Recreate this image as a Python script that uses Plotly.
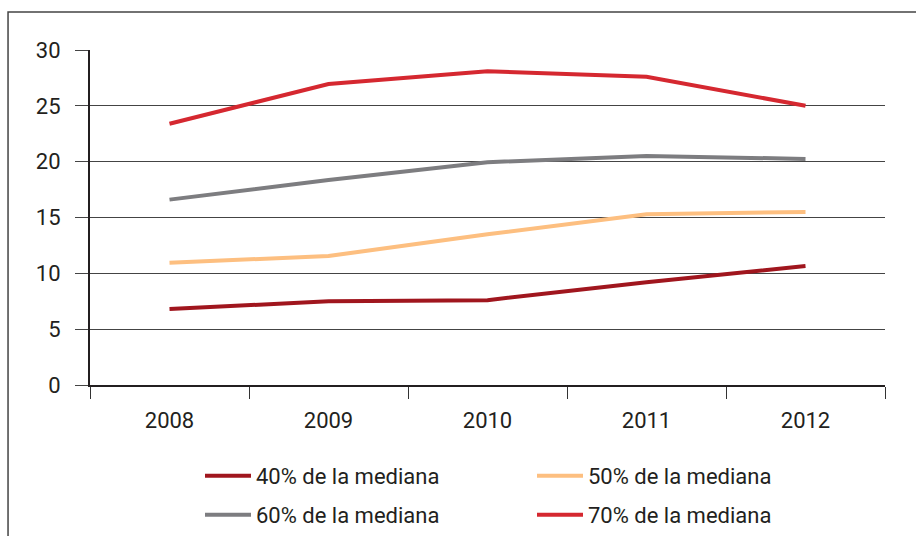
import plotly.graph_objects as go

years = ["2008", "2009", "2010", "2011", "2012"]
s40 = [6.8, 7.5, 7.6, 9.2, 10.65]
s50 = [10.95, 11.55, 13.5, 15.3, 15.5]
s60 = [16.6, 18.35, 19.95, 20.5, 20.25]
s70 = [23.4, 26.95, 28.1, 27.6, 25.0]
names = ["40% de la mediana", "50% de la mediana", "60% de la mediana", "70% de la mediana"]
colors = ["#A0161E", "#FDBF80", "#7D7D80", "#D52830"]
y_ticks = [0, 5, 10, 15, 20, 25, 30]

FONT = "Roboto"
FS = 22
TXT = "#231F20"

fig = go.Figure()
series = [s40, s50, s60, s70]
legends = ["legend", "legend", "legend2", "legend2"]
for vals, nm, col, lg in zip(series, names, colors, legends):
    fig.add_trace(go.Scatter(x=years, y=vals, name=nm, mode="lines",
                             line=dict(color=col, width=4), legend=lg))

leg_common = dict(orientation="h", xref="container", yref="container",
                  xanchor="left", yanchor="middle",
                  entrywidth=271, entrywidthmode="pixels", itemwidth=46,
                  font=dict(family=FONT, size=FS, color=TXT),
                  bgcolor="rgba(0,0,0,0)", borderwidth=0)

fig.update_layout(
    width=916, height=536,
    margin=dict(l=90, r=31, t=50, b=151),
    paper_bgcolor="white", plot_bgcolor="white",
    font=dict(family=FONT, size=FS, color=TXT),
    showlegend=True,
    legend=dict(x=200 / 916, y=1 - 476 / 536, **leg_common),
    legend2=dict(x=200 / 916, y=1 - 515 / 536, **leg_common),
)

fig.update_xaxes(type="category", range=[-0.5, 4.5], tickson="boundaries",
                 ticks="outside", ticklen=12,
                 tickcolor="#333", tickwidth=1, showline=True, linecolor="#231F20",
                 linewidth=2, showgrid=False, zeroline=False,
                 tickfont=dict(family=FONT, size=FS, color=TXT), ticklabelstandoff=15)
fig.update_yaxes(range=[0, 30], tickvals=y_ticks, ticks="outside", ticklen=13,
                 tickcolor="#444", tickwidth=1, showline=True, linecolor="#231F20",
                 linewidth=2, showgrid=True, gridcolor="#444", gridwidth=1,
                 zeroline=False, tickfont=dict(family=FONT, size=FS, color=TXT),
                 ticklabelstandoff=10)

fig.add_shape(type="rect", xref="paper", yref="paper", x0=-0.1031, x1=1.5,
              y0=-1.0, y1=1.1134, line=dict(color="#444", width=1.5),
              fillcolor="rgba(0,0,0,0)", layer="below")

fig.write_html("out.html", config={"displayModeBar": False},
               post_script="document.body.style.margin='0';document.body.style.overflow='hidden';")
